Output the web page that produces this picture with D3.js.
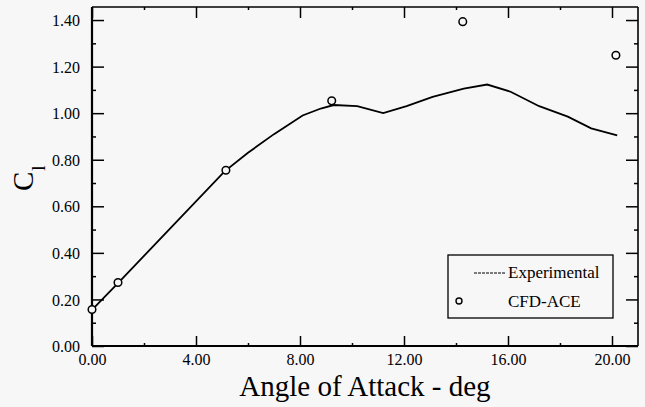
<!DOCTYPE html>
<html>
<head>
<meta charset="utf-8">
<script src="https://cdn.jsdelivr.net/npm/d3@7"></script>
<style>
  html, body { margin: 0; padding: 0; background: #f7f7f7; }
  svg { display: block; }
  text { font-family: "Liberation Serif", "DejaVu Serif", serif; fill: #000; }
</style>
</head>
<body>
<svg id="chart" width="645" height="407"></svg>
<script>
// ---- data ----
const expAngle = [0.0, 1.0, 5.1, 6.0, 7.0, 8.1, 8.8, 9.3, 10.2, 11.2, 12.1, 13.1, 14.3, 15.2, 16.1, 17.2, 18.3, 19.2, 20.2];
const expCl    = [0.155, 0.27, 0.75, 0.83, 0.91, 0.99, 1.02, 1.035, 1.03, 1.0, 1.03, 1.07, 1.105, 1.123, 1.092, 1.03, 0.985, 0.935, 0.905];
const cfdAngle = [0.0, 1.0, 5.15, 9.22, 14.26, 20.15];
const cfdCl    = [0.157, 0.273, 0.755, 1.053, 1.393, 1.249];
const xTickValues = [0, 4, 8, 12, 16, 20];
const xTickLabels = ["0.00", "4.00", "8.00", "12.00", "16.00", "20.00"];
const yTickValues = [0, 0.2, 0.4, 0.6, 0.8, 1.0, 1.2, 1.4];
const yTickLabels = ["0.00", "0.20", "0.40", "0.60", "0.80", "1.00", "1.20", "1.40"];
const legendLabels = ["Experimental", "CFD-ACE"];
const xTitle = "Angle of Attack - deg";

// ---- layout ----
const SERIF = '"Liberation Serif", "DejaVu Serif", serif';
const L = 92, R = 638, T = 7, B = 346;
const svg = d3.select("#chart");
const x = d3.scaleLinear().domain([0, 21]).range([L, R]);
const y = d3.scaleLinear().domain([0, 1.456]).range([B, T]);

// minor tick values
const xMinor = d3.range(2, 21, 4);
const yMinor = d3.range(0.1, 1.45, 0.2);

// axes (ticks inward)
const axB = d3.axisBottom(x).tickValues(xTickValues).tickSize(-10).tickFormat((d, i) => xTickLabels[i]).tickPadding(14);
const gB = svg.append("g").attr("transform", `translate(0,${B})`).call(axB);
gB.attr("font-family", SERIF);
gB.select(".domain").remove();
gB.selectAll("text").style("font-family", SERIF).style("font-size", "16px").attr("dy", "0.71em").attr("y", 8);
svg.append("g").attr("transform", `translate(0,${B})`)
  .call(d3.axisBottom(x).tickValues(xMinor).tickSize(-3).tickFormat(""))
  .select(".domain").remove();

const axT = svg.append("g").attr("transform", `translate(0,${T})`)
  .call(d3.axisTop(x).tickValues(xTickValues).tickSize(-11).tickFormat(""));
axT.select(".domain").remove();
svg.append("g").attr("transform", `translate(0,${T})`)
  .call(d3.axisTop(x).tickValues(xMinor).tickSize(-3).tickFormat(""))
  .select(".domain").remove();

const gL = svg.append("g").attr("transform", `translate(${L},0)`)
  .call(d3.axisLeft(y).tickValues(yTickValues).tickSize(-12).tickFormat((d, i) => yTickLabels[i]).tickPadding(0));
gL.attr("font-family", SERIF);
gL.select(".domain").remove();
gL.selectAll("text").style("font-family", SERIF).style("font-size", "16px").attr("x", -12).attr("dy", "0.35em");
svg.append("g").attr("transform", `translate(${L},0)`)
  .call(d3.axisLeft(y).tickValues(yMinor).tickSize(-4).tickFormat(""))
  .select(".domain").remove();

svg.append("g").attr("transform", `translate(${R},0)`)
  .call(d3.axisRight(y).tickValues(yTickValues).tickSize(-12).tickFormat(""))
  .select(".domain").remove();
svg.append("g").attr("transform", `translate(${R},0)`)
  .call(d3.axisRight(y).tickValues(yMinor).tickSize(-4).tickFormat(""))
  .select(".domain").remove();

svg.selectAll(".tick line").attr("stroke", "#000").attr("stroke-width", 1.5);

// frame
svg.append("line").attr("x1", L).attr("x2", L).attr("y1", T).attr("y2", B).attr("stroke", "#000").attr("stroke-width", 2.2);
svg.append("line").attr("x1", L).attr("x2", R).attr("y1", B).attr("y2", B).attr("stroke", "#000").attr("stroke-width", 2.2);
svg.append("line").attr("x1", L).attr("x2", R).attr("y1", T).attr("y2", T).attr("stroke", "#000").attr("stroke-width", 1.6);
svg.append("line").attr("x1", R).attr("x2", R).attr("y1", T).attr("y2", B).attr("stroke", "#000").attr("stroke-width", 1.6);

// experimental line
const line = d3.line().x(d => x(d[0])).y(d => y(d[1]));
svg.append("path")
  .datum(expAngle.map((a, i) => [a, expCl[i]]))
  .attr("d", line).attr("fill", "none").attr("stroke", "#000").attr("stroke-width", 1.8);

// CFD points
svg.append("g").selectAll("circle")
  .data(cfdAngle.map((a, i) => [a, cfdCl[i]]))
  .join("circle")
  .attr("cx", d => x(d[0])).attr("cy", d => y(d[1])).attr("r", 3.8)
  .attr("fill", "#f7f7f7").attr("stroke", "#000").attr("stroke-width", 1.5);

// legend
svg.append("rect").attr("x", 448).attr("y", 255).attr("width", 165).attr("height", 63)
  .attr("fill", "#f7f7f7").attr("stroke", "#000").attr("stroke-width", 1.3);
svg.append("line").attr("x1", 474).attr("x2", 506).attr("y1", 273).attr("y2", 273)
  .attr("stroke", "#000").attr("stroke-width", 1.2).attr("stroke-dasharray", "3,1");
svg.append("text").attr("x", 508).attr("y", 278).style("font-size", "17px").text(legendLabels[0]);
svg.append("circle").attr("cx", 459).attr("cy", 301).attr("r", 3)
  .attr("fill", "#f7f7f7").attr("stroke", "#000").attr("stroke-width", 1.4);
svg.append("text").attr("x", 508).attr("y", 307).style("font-size", "17px").text(legendLabels[1]);

// axis titles
svg.append("text").attr("x", (L + R) / 2).attr("y", 396).attr("text-anchor", "middle")
  .style("font-size", "29px").text(xTitle);
const yt = svg.append("text").attr("transform", "translate(33,191) rotate(-90)").style("font-size", "29px");
yt.append("tspan").text("C");
yt.append("tspan").attr("dy", 12).attr("dx", 1).style("font-size", "19px").text("l");
</script>
</body>
</html>
